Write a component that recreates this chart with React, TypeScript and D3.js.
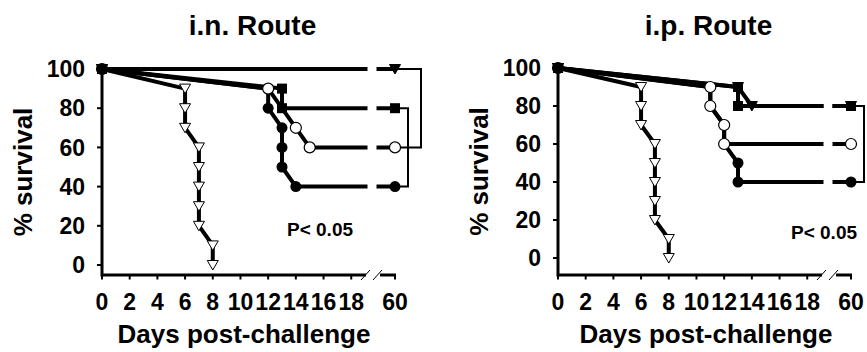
import React from "react";
import * as d3 from "d3";

// ---------- data ----------
const TITLES = ["i.n. Route", "i.p. Route"];
const X_TICKS = [0, 2, 4, 6, 8, 10, 12, 14, 16, 18, 60];
const X_TICK_LABELS = ["0", "2", "4", "6", "8", "10", "12", "14", "16", "18", "60"];
const Y_TICKS = [0, 20, 40, 60, 80, 100];
const Y_LABEL = "% survival";
const X_LABEL = "Days post-challenge";
const P_TEXT = "P< 0.05";

// i.n. route series
const IN_OPEN_TRI_DAYS = [0, 6, 6, 6, 7, 7, 7, 7, 7, 8, 8];
const IN_OPEN_TRI_SURV = [100, 90, 80, 70, 60, 50, 40, 30, 20, 10, 0];
const IN_FILLED_TRI_DAYS = [0, 60];
const IN_FILLED_TRI_SURV = [100, 100];
const IN_SQUARE_DAYS = [0, 13, 13, 60];
const IN_SQUARE_SURV = [100, 90, 80, 80];
const IN_FILLED_CIRCLE_DAYS = [0, 12, 12, 13, 13, 13, 14, 60];
const IN_FILLED_CIRCLE_SURV = [100, 90, 80, 70, 60, 50, 40, 40];
const IN_OPEN_CIRCLE_DAYS = [0, 12, 14, 15, 60];
const IN_OPEN_CIRCLE_SURV = [100, 90, 70, 60, 60];

// i.p. route series
const IP_OPEN_TRI_DAYS = [0, 6, 6, 6, 7, 7, 7, 7, 7, 8, 8];
const IP_OPEN_TRI_SURV = [100, 90, 80, 70, 60, 50, 40, 30, 20, 10, 0];
const IP_FILLED_TRI_DAYS = [0, 13, 14, 60];
const IP_FILLED_TRI_SURV = [100, 90, 80, 80];
const IP_SQUARE_DAYS = [0, 13, 13, 60];
const IP_SQUARE_SURV = [100, 90, 80, 80];
const IP_FILLED_CIRCLE_DAYS = [0, 11, 11, 12, 12, 13, 13, 60];
const IP_FILLED_CIRCLE_SURV = [100, 90, 80, 70, 60, 50, 40, 40];
const IP_OPEN_CIRCLE_DAYS = [0, 11, 11, 12, 12, 60];
const IP_OPEN_CIRCLE_SURV = [100, 90, 80, 70, 60, 60];

// brackets: [from survival, to survival] at day 60
const IN_BRACKETS = [
  [100, 60],
  [80, 40],
];
const IP_BRACKETS = [[80, 40]];

type Kind = "openTri" | "filledTri" | "square" | "filledCircle" | "openCircle";
type Series = { kind: Kind; days: number[]; surv: number[] };

const IN_SERIES: Series[] = [
  { kind: "openTri", days: IN_OPEN_TRI_DAYS, surv: IN_OPEN_TRI_SURV },
  { kind: "filledTri", days: IN_FILLED_TRI_DAYS, surv: IN_FILLED_TRI_SURV },
  { kind: "square", days: IN_SQUARE_DAYS, surv: IN_SQUARE_SURV },
  { kind: "filledCircle", days: IN_FILLED_CIRCLE_DAYS, surv: IN_FILLED_CIRCLE_SURV },
  { kind: "openCircle", days: IN_OPEN_CIRCLE_DAYS, surv: IN_OPEN_CIRCLE_SURV },
];
const IP_SERIES: Series[] = [
  { kind: "openTri", days: IP_OPEN_TRI_DAYS, surv: IP_OPEN_TRI_SURV },
  { kind: "filledTri", days: IP_FILLED_TRI_DAYS, surv: IP_FILLED_TRI_SURV },
  { kind: "square", days: IP_SQUARE_DAYS, surv: IP_SQUARE_SURV },
  { kind: "filledCircle", days: IP_FILLED_CIRCLE_DAYS, surv: IP_FILLED_CIRCLE_SURV },
  { kind: "openCircle", days: IP_OPEN_CIRCLE_DAYS, surv: IP_OPEN_CIRCLE_SURV },
];

// ---------- layout ----------
const W = 867;
const H = 352;
const FONT = "'Liberation Sans', Arial, Helvetica, sans-serif";

type PanelCfg = {
  id: string;
  title: string;
  series: Series[];
  brackets: number[][];
  x0: number;
  y0: number;
  y100: number;
  axisY: number;
  bracketOffsets: number[];
  pX: number;
  pY: number;
  xLabelX: number;
};

const PANELS: PanelCfg[] = [
  {
    id: "in",
    title: TITLES[0],
    series: IN_SERIES,
    brackets: IN_BRACKETS,
    x0: 102,
    y0: 265,
    y100: 69,
    axisY: 275,
    bracketOffsets: [26, 13],
    pX: 320,
    pY: 236,
    xLabelX: 244,
  },
  {
    id: "ip",
    title: TITLES[1],
    series: IP_SERIES,
    brackets: IP_BRACKETS,
    x0: 558,
    y0: 258,
    y100: 68,
    axisY: 275,
    bracketOffsets: [13],
    pX: 824,
    pY: 239,
    xLabelX: 706,
  },
];

function Marker({ kind, x, y }: { kind: Kind; x: number; y: number }) {
  const tri = `M${x - 5.5},${y - 4.5}L${x + 5.5},${y - 4.5}L${x},${y + 5}Z`;
  switch (kind) {
    case "openTri":
      return <path d={tri} fill="#fff" stroke="#000" strokeWidth={1} />;
    case "filledTri":
      return <path d={tri} fill="#000" stroke="#000" strokeWidth={1} />;
    case "square":
      return <rect x={x - 5} y={y - 5} width={10} height={10} fill="#000" />;
    case "filledCircle":
      return <circle cx={x} cy={y} r={5.5} fill="#000" />;
    case "openCircle":
      return <circle cx={x} cy={y} r={5.5} fill="#fff" stroke="#000" strokeWidth={1.2} />;
  }
}

const START_ORDER: Kind[] = ["openTri", "openCircle", "filledTri", "square", "filledCircle"];

function Panel({ cfg }: { cfg: PanelCfg }) {
  const x = d3
    .scaleLinear()
    .domain([0, 19.5, 60])
    .range([cfg.x0, cfg.x0 + 270, cfg.x0 + 293]);
  const y = d3.scaleLinear().domain([0, 100]).range([cfg.y0, cfg.y100]);
  const bx = x(19.5);
  const x60 = x(60);
  const line = d3
    .line<[number, number]>()
    .x((d) => x(d[0]))
    .y((d) => y(d[1]));

  const clipId = `clip-${cfg.id}`;
  const markersFirst: any[] = [];
  const startMarkers: { kind: Kind; el: any }[] = [];
  cfg.series.forEach((s, si) => {
    s.days.forEach((d, i) => {
      const el = <Marker key={`${si}-${i}`} kind={s.kind} x={x(d)} y={y(s.surv[i])} />;
      if (d === 0) startMarkers.push({ kind: s.kind, el });
      else markersFirst.push(el);
    });
  });
  startMarkers.sort((a, b) => START_ORDER.indexOf(a.kind) - START_ORDER.indexOf(b.kind));

  const plotCx = (cfg.x0 + x60) / 2;
  const yMid = (cfg.y100 + cfg.axisY) / 2;

  return (
    <g>
      <defs>
        <clipPath id={clipId}>
          <rect x={0} y={0} width={bx - 4.5} height={H} />
          <rect x={bx + 4.5} y={0} width={W} height={H} />
        </clipPath>
      </defs>
      {/* title */}
      <text
        x={plotCx + 4}
        y={35}
        textAnchor="middle"
        fontFamily={FONT}
        fontWeight="bold"
        fontSize={28}
      >
        {cfg.title}
      </text>

      {/* brackets */}
      {cfg.brackets.map((b, i) => {
        const bxr = x60 + cfg.bracketOffsets[i];
        return (
          <path
            key={i}
            d={`M${x60},${y(b[0])}H${bxr}V${y(b[1])}H${x60}`}
            fill="none"
            stroke="#000"
            strokeWidth={2}
          />
        );
      })}

      {/* axes */}
      <line x1={cfg.x0} x2={cfg.x0} y1={cfg.y100 - 1} y2={cfg.axisY + 1.5} stroke="#000" strokeWidth={3} />
      {Y_TICKS.map((t) => (
        <g key={t}>
          <line x1={cfg.x0 - 5} x2={cfg.x0} y1={y(t)} y2={y(t)} stroke="#000" strokeWidth={2} />
          <text
            x={cfg.x0 - 17}
            y={y(t)}
            dy="0.36em"
            textAnchor="end"
            fontFamily={FONT}
            fontWeight="bold"
            fontSize={23}
          >
            {t}
          </text>
        </g>
      ))}
      <line x1={cfg.x0} x2={bx - 6} y1={cfg.axisY} y2={cfg.axisY} stroke="#000" strokeWidth={3} />
      <line x1={bx + 8} x2={x60 + 1} y1={cfg.axisY} y2={cfg.axisY} stroke="#000" strokeWidth={3} />
      <line x1={bx - 11} y1={cfg.axisY + 5} x2={bx - 2} y2={cfg.axisY - 5} stroke="#000" strokeWidth={1} />
      <line x1={bx + 1} y1={cfg.axisY + 5} x2={bx + 10} y2={cfg.axisY - 5} stroke="#000" strokeWidth={1} />
      {X_TICKS.map((t, i) => (
        <g key={t}>
          <line x1={x(t)} x2={x(t)} y1={cfg.axisY} y2={cfg.axisY + 4.5} stroke="#000" strokeWidth={2} />
          <text
            x={x(t)}
            y={310}
            textAnchor="middle"
            fontFamily={FONT}
            fontWeight="bold"
            fontSize={23}
          >
            {X_TICK_LABELS[i]}
          </text>
        </g>
      ))}

      {/* lines */}
      <g clipPath={`url(#${clipId})`}>
        {cfg.series.map((s, si) => (
          <path
            key={si}
            d={line(s.days.map((d, i) => [d, s.surv[i]] as [number, number])) || ""}
            fill="none"
            stroke="#000"
            strokeWidth={4}
            strokeLinejoin="round"
          />
        ))}
      </g>

      {/* markers */}
      {markersFirst}
      {startMarkers.map((m) => m.el)}

      {/* p value */}
      <text x={cfg.pX} y={cfg.pY} textAnchor="middle" fontFamily={FONT} fontWeight="bold" fontSize={19}>
        {P_TEXT}
      </text>

      {/* axis labels */}
      <text
        x={cfg.xLabelX}
        y={343}
        textAnchor="middle"
        fontFamily={FONT}
        fontWeight="bold"
        fontSize={26}
      >
        {X_LABEL}
      </text>
      <text
        transform={`translate(${cfg.x0 - 70},${yMid}) rotate(-90)`}
        textAnchor="middle"
        fontFamily={FONT}
        fontWeight="bold"
        fontSize={26}
      >
        {Y_LABEL}
      </text>
    </g>
  );
}

export default function App() {
  return (
    <svg
      width={W}
      height={H}
      viewBox={`0 0 ${W} ${H}`}
      style={{ position: "absolute", left: 0, top: 0, background: "#fff" }}
    >
      <rect x={0} y={0} width={W} height={H} fill="#fff" />
      {PANELS.map((p) => (
        <Panel key={p.id} cfg={p} />
      ))}
    </svg>
  );
}
